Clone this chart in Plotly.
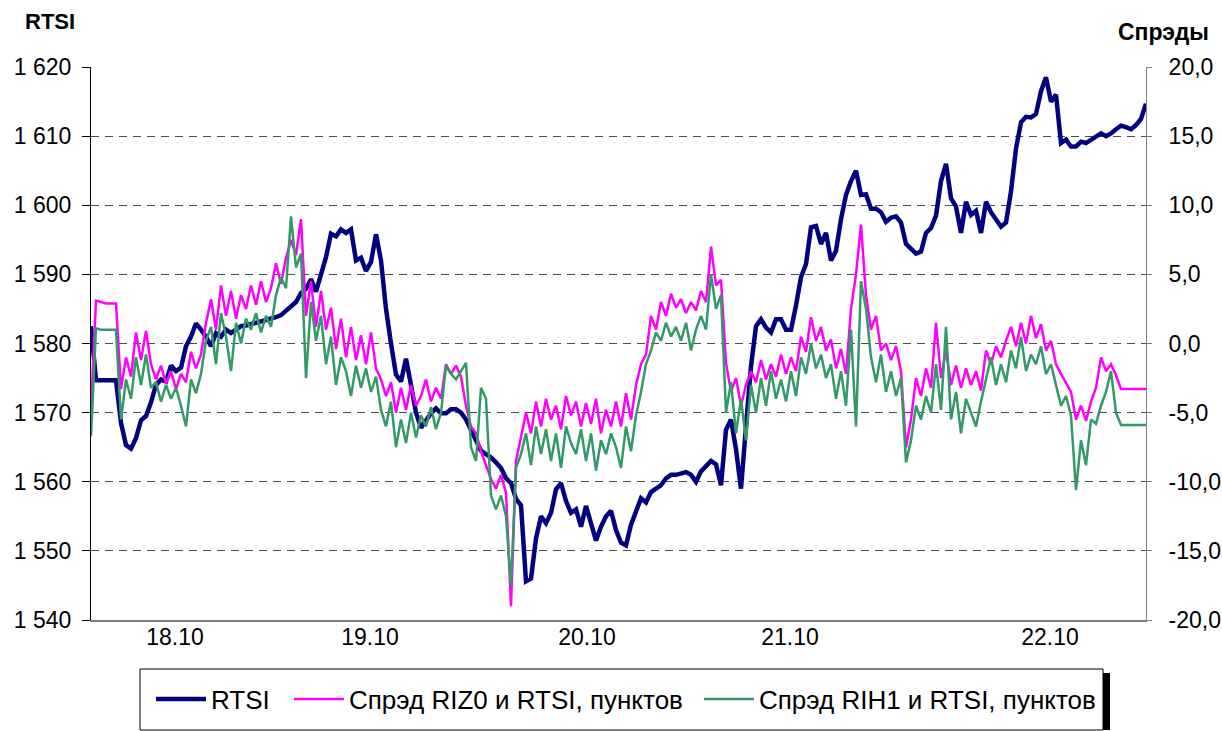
import plotly.graph_objects as go

# ---------------- data ----------------
rtsi = [1582.5, 1574.7, 1574.7, 1574.7, 1574.7, 1574.7, 1568.5, 1565.3, 1564.8, 1566.3,
        1568.9, 1569.5, 1571.5, 1574.0, 1574.8, 1574.5, 1576.8, 1576.0, 1576.5, 1579.6,
        1581.0, 1582.9, 1582.0, 1581.0, 1579.6, 1581.5, 1581.0, 1582.0, 1581.5, 1582.0,
        1582.5, 1582.6, 1582.8, 1583.0, 1583.2, 1583.3, 1583.5, 1583.8, 1584.1, 1584.7,
        1585.4, 1586.0, 1587.3, 1587.9, 1589.3, 1587.5, 1590.0, 1592.5, 1595.9, 1595.5,
        1596.5, 1596.0, 1596.5, 1592.0, 1592.4, 1590.5, 1591.8, 1595.8, 1592.0, 1585.0,
        1580.0, 1575.5, 1574.5, 1577.8, 1574.0, 1570.0, 1567.8, 1568.9, 1569.9, 1570.6,
        1569.9, 1569.9, 1570.5, 1570.5, 1570.0, 1569.0, 1567.5, 1565.8, 1564.5, 1564.0,
        1563.5, 1562.8, 1562.0, 1560.5, 1559.8, 1557.5, 1556.6, 1545.6, 1546.0, 1551.8,
        1555.0, 1554.0, 1555.5, 1558.9, 1559.8, 1557.2, 1555.5, 1556.0, 1553.5, 1556.5,
        1554.0, 1551.5, 1553.5, 1555.0, 1555.8, 1553.0, 1551.2, 1550.8, 1553.8, 1555.5,
        1557.6, 1557.0, 1558.5, 1559.0, 1559.5, 1560.5, 1561.0, 1561.0, 1561.2, 1561.4,
        1561.0, 1560.0, 1561.5, 1562.2, 1563.0, 1562.5, 1559.5, 1567.5, 1569.0, 1564.7,
        1559.0, 1568.0, 1576.7, 1582.5, 1583.5, 1582.3, 1581.6, 1583.5, 1583.5, 1582.0,
        1582.0, 1585.5, 1589.6, 1591.5, 1596.8, 1597.0, 1594.4, 1596.0, 1592.0, 1593.4,
        1598.0, 1601.5, 1603.5, 1605.0, 1601.5, 1601.6, 1599.5, 1599.5, 1599.0, 1597.6,
        1598.2, 1598.4, 1597.5, 1594.4, 1593.8, 1593.0, 1593.3, 1596.0, 1596.7, 1598.5,
        1603.5, 1606.0, 1601.0, 1599.8, 1596.0, 1600.5, 1598.6, 1599.2, 1596.0, 1600.5,
        1599.0, 1597.8, 1596.9, 1597.5, 1602.0, 1608.2, 1612.0, 1612.8, 1612.7, 1613.2,
        1616.5, 1618.5, 1615.0, 1616.0, 1609.0, 1609.5, 1608.5, 1608.5, 1609.2, 1609.0,
        1609.5, 1610.0, 1610.4, 1610.0, 1610.4, 1611.0, 1611.5, 1611.3, 1611.0, 1611.6,
        1612.5, 1614.7]

spread_riz0 = [-4.8, 3.1, 3.0, 2.9, 2.9, 2.9, -3.3, -1.0, -2.4, 0.8,
               -1.2, 0.9, -1.5, -2.6, -1.6, -2.9, -2.0, -3.3, -2.2, -2.8,
               -0.6, -1.8, -0.8, 1.5, 3.2, 1.0, 4.2, 2.0, 3.8, 1.8,
               3.5, 2.5, 4.2, 2.8, 4.5, 3.0, 4.0, 5.8, 4.3, 6.2,
               7.5, 6.4, 9.0, 2.0, 4.5, 1.2, 3.8, 1.0, 2.6, -0.4,
               1.8, -1.0, 1.2, -1.2, 0.6, -1.5, 0.8, -1.8, -2.6, -3.8,
               -2.8, -5.0, -3.2, -4.8, -3.0, -4.5, -3.8, -2.6, -4.2, -3.2,
               -4.0, -1.5, -2.2, -1.6, -2.4, -4.5, -6.0, -6.5, -7.8, -8.8,
               -9.8, -10.5, -9.5, -10.8, -19.0, -8.5, -6.8, -5.0, -6.5, -4.2,
               -6.0, -4.0, -5.5, -4.5, -6.2, -3.8, -5.2, -4.2, -6.0, -4.3,
               -5.8, -4.0, -6.5, -4.8, -6.0, -4.2, -6.0, -3.6, -5.5, -3.0,
               -1.5, -0.8, 2.0, 1.0, 3.0, 2.0, 3.6, 2.6, 3.2, 2.2,
               3.0, 2.4, 3.8, 3.0, 7.0, 4.2, 4.6, -1.4, -3.5, -2.5,
               -4.5, -3.0, -2.0, -2.8, -1.2, -2.6, -1.5, -2.4, -0.8, -2.2,
               -1.0, -2.0, 0.5, -0.6, 1.9, 0.2, 1.2, -0.5, 0.3, -1.8,
               -0.4, -2.2, 2.5, 5.0, 8.6, 3.5, 1.0, 2.0, -0.5, 0.0,
               -1.2, -0.2, -2.0, -7.5, -5.5, -2.5, -3.8, -1.8, -3.2, 1.5,
               -2.5, -0.5, -3.0, -1.6, -3.2, -1.8, -3.0, -2.0, -3.4, -0.5,
               -1.5, -0.2, -1.0, 0.2, 1.2, -0.2, 1.5, 0.0, 2.0, 0.4,
               1.4, -0.5, 0.2, -1.5, -2.2, -2.8, -3.5, -5.5, -4.5, -5.6,
               -4.2, -3.2, -1.0, -2.0, -1.5, -2.3, -3.3, -3.3, -3.3, -3.3,
               -3.3, -3.3]

spread_rih1 = [-6.7, 1.1, 1.0, 1.0, 1.0, 1.0, -5.5, -2.6, -4.0, -1.0,
               -3.0, -0.8, -3.2, -2.8, -4.2, -3.0, -4.0, -3.2, -4.5, -6.0,
               -2.6, -3.6, -2.2, 0.2, 1.2, -1.5, 2.2, 0.5, -2.0, 1.5,
               0.0, 1.8, 1.0, 2.2, 0.8, 2.0, 1.2, 3.5, 4.8, 4.0,
               9.2, 5.5, 6.5, -2.5, 3.0, 0.2, 2.0, -1.5, 0.5, -3.0,
               -1.0, -2.0, -3.8, -1.6, -3.2, -1.8, -3.5, -2.4, -4.8, -6.0,
               -4.2, -7.5, -5.5, -7.2, -5.0, -6.8, -5.2, -6.0, -4.6, -6.2,
               -5.0, -1.6, -2.2, -2.6, -2.0, -1.4, -7.5, -8.5, -3.2, -4.0,
               -11.0, -12.0, -11.0, -12.5, -17.5, -9.0, -8.0, -6.5, -8.8, -6.0,
               -8.0, -6.2, -8.5, -6.5, -9.0, -6.0, -7.2, -8.0, -6.2, -8.5,
               -6.5, -9.2, -7.0, -8.0, -6.5, -7.5, -9.0, -6.0, -7.8, -5.2,
               -3.5, -1.5, -0.5, 0.8, 0.2, 1.5, 0.5, 1.2, 0.2, 1.5,
               -0.5, 1.0, 2.0, 1.0, 5.0, 2.5, 3.5, -5.0, -2.8, -6.5,
               -4.0, -7.0, -3.0, -5.0, -2.5, -4.5, -2.0, -4.0, -2.6, -4.2,
               -2.0, -3.8, -1.0, -2.2, 0.0, -1.8, -0.8, -2.5, -1.5, -4.0,
               -2.0, -4.5, 1.0, -6.0, 4.5, 2.5, -1.0, -2.8, -0.8, -3.5,
               -2.0, -3.8, -2.5, -8.6, -7.0, -4.5, -5.5, -3.8, -5.0, -1.5,
               -4.8, 1.2, -5.5, -3.5, -6.5, -4.0, -5.0, -6.0, -4.2, -2.5,
               -1.0, -3.0, -1.5, -2.8, -0.5, -1.8, 0.5, -2.0, -0.8, -1.5,
               -0.2, -2.2, -1.5, -3.0, -4.5, -3.8, -5.2, -10.6, -7.0, -8.8,
               -5.5, -5.8, -4.5, -3.5, -2.0, -5.0, -5.9, -5.9, -5.9, -5.9,
               -5.9, -5.9]

obs_index = list(range(len(rtsi)))

# positions (in observation index) where each trading day label sits
day_label_pos = [16.8, 55.8, 99.2, 139.8, 191.8]
day_labels = ["18.10", "19.10", "20.10", "21.10", "22.10"]

rtsi_ticks = [1540, 1550, 1560, 1570, 1580, 1590, 1600, 1610, 1620]
rtsi_tick_labels = ["1 540", "1 550", "1 560", "1 570", "1 580", "1 590", "1 600", "1 610", "1 620"]
spread_ticks = [-20, -15, -10, -5, 0, 5, 10, 15, 20]
spread_tick_labels = ["-20,0", "-15,0", "-10,0", "-5,0", "0,0", "5,0", "10,0", "15,0", "20,0"]

series_names = ["RTSI", "Спрэд RIZ0 и RTSI, пунктов", "Спрэд RIH1 и RTSI, пунктов"]

# ---------------- figure ----------------
FONT = "Liberation Sans, Arial, sans-serif"
W, H = 1222, 731
L, R, T, B = 91, 76, 67, 111
pw, ph = W - L - R, H - T - B


def px_x(px):
    return (px - L) / pw


def px_y(py):
    return (H - B - py) / ph


fig = go.Figure()
fig.add_trace(go.Scatter(x=obs_index, y=rtsi, name=series_names[0], mode="lines",
                         line=dict(color="#000080", width=4.5), yaxis="y", legend="legend"))
fig.add_trace(go.Scatter(x=obs_index, y=spread_riz0, name=series_names[1], mode="lines",
                         line=dict(color="#FF00FF", width=2.5), yaxis="y2", legend="legend2"))
fig.add_trace(go.Scatter(x=obs_index, y=spread_rih1, name=series_names[2], mode="lines",
                         line=dict(color="#339966", width=2.5), yaxis="y2", legend="legend3"))

leg_common = dict(orientation="h", xanchor="left", yanchor="middle", y=px_y(699),
                  bgcolor="rgba(0,0,0,0)", borderwidth=0, font=dict(size=26),
                  itemwidth=50)

fig.update_layout(
    width=W, height=H,
    margin=dict(l=L, r=R, t=T, b=B, pad=0, autoexpand=False),
    paper_bgcolor="white", plot_bgcolor="white",
    font=dict(family=FONT, size=23, color="black"),
    showlegend=True,
    legend=dict(x=px_x(151), **leg_common),
    legend2=dict(x=px_x(289), **leg_common),
    legend3=dict(x=px_x(699), **leg_common),
    xaxis=dict(range=[0, len(rtsi) - 1], showgrid=False, zeroline=False, automargin=False,
               showline=True, linecolor="#808080", linewidth=2,
               ticks="", tickmode="array", tickvals=day_label_pos, ticktext=day_labels,
               tickfont=dict(size=23), ticklabelstandoff=-5),
    yaxis=dict(range=[1540, 1620], tickmode="array", tickvals=rtsi_ticks, ticktext=rtsi_tick_labels,
               showgrid=True, gridcolor="#4d4d4d", gridwidth=1, griddash="8px,6px", automargin=False,
               zeroline=False, showline=True, linecolor="black", linewidth=1,
               ticks="outside", ticklen=8, tickcolor="black", tickwidth=1,
               tickfont=dict(size=23), ticklabelstandoff=6),
    yaxis2=dict(range=[-20, 20], overlaying="y", side="right", tickmode="array", automargin=False,
                tickvals=spread_ticks, ticktext=spread_tick_labels,
                showgrid=False, zeroline=False, showline=True, linecolor="#808080", linewidth=1,
                ticks="outside", ticklen=5, tickcolor="#808080",
                tickfont=dict(size=23), ticklabelstandoff=12),
    annotations=[
        dict(text="<b>RTSI</b>", xref="paper", yref="paper", x=px_x(50), y=px_y(21),
             xanchor="center", yanchor="middle", showarrow=False, font=dict(size=22)),
        dict(text="<b>Спрэды</b>", xref="paper", yref="paper", x=px_x(1163), y=px_y(32),
             xanchor="center", yanchor="middle", showarrow=False, font=dict(size=23)),
    ],
    shapes=[
        dict(type="rect", xref="paper", yref="paper", x0=px_x(140), x1=px_x(1103),
             y0=px_y(730), y1=px_y(669), line=dict(color="black", width=1), layer="above"),
        dict(type="rect", xref="paper", yref="paper", x0=px_x(1103), x1=px_x(1110),
             y0=px_y(730), y1=px_y(673), line=dict(width=0), fillcolor="black", layer="above"),
    ],
)

fig.write_html("out.html", config={"displayModeBar": False},
               post_script="document.body.style.margin='0';document.body.style.overflow='hidden';")
